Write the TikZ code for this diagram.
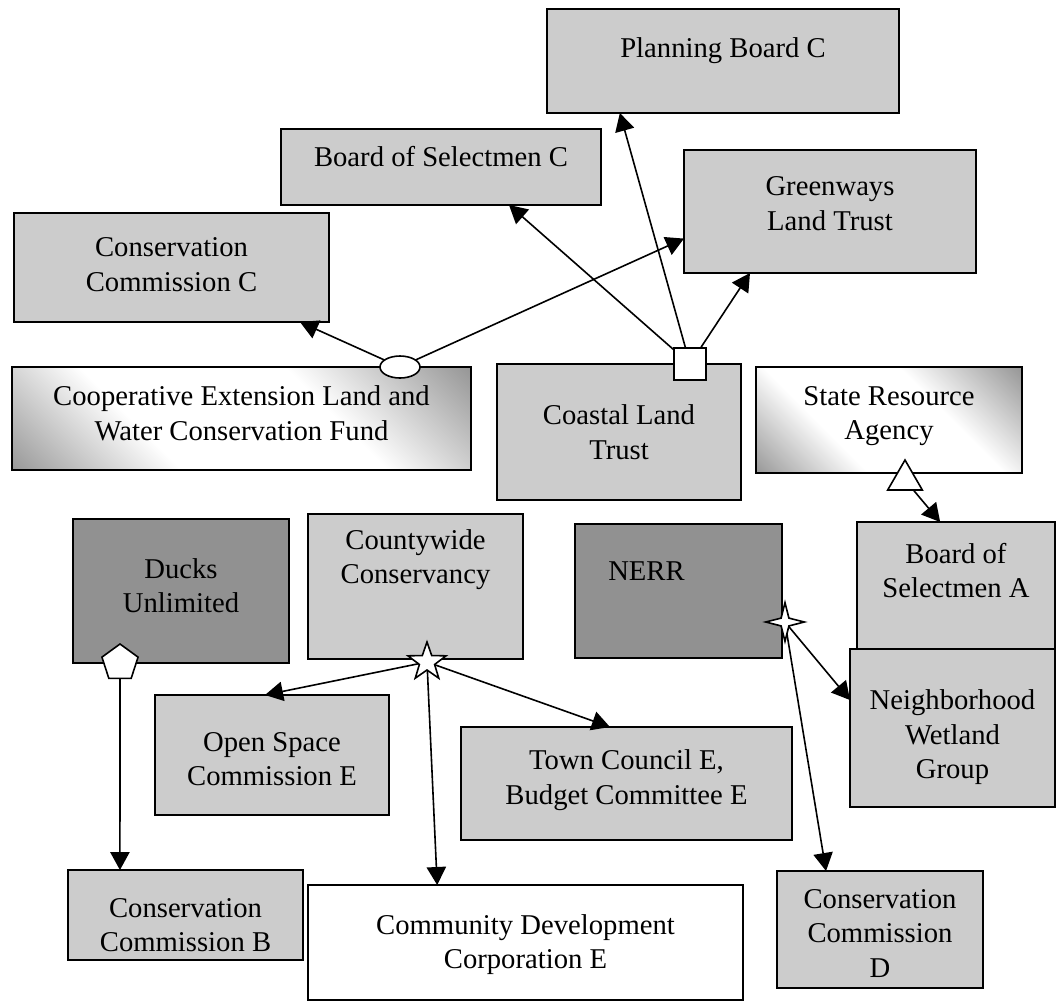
\documentclass[tikz,border=0pt]{standalone}
\usepackage{fontspec}
\setmainfont{Liberation Serif}
\usetikzlibrary{shapes.geometric,arrows.meta,fit,calc}
\definecolor{lightbox}{RGB}{204,204,204}
\definecolor{darkbox}{RGB}{145,145,145}
\definecolor{gradedge}{RGB}{120,120,120}
\pgfdeclarehorizontalshading{diagfade}{100bp}{color(0bp)=(gradedge); color(8bp)=(gradedge); color(36bp)=(white); color(62bp)=(white); color(92bp)=(gradedge); color(100bp)=(gradedge)}
\begin{document}
\begin{tikzpicture}[x=0.75pt,y=-0.75pt,
  base/.style={draw=black, line width=1.3pt, inner sep=0pt, outer sep=0pt},
  lbox/.style={base, fill=lightbox},
  dbox/.style={base, fill=darkbox},
  wbox/.style={base, fill=white},
  gbox/.style={base, shade, shading=diagfade, shading angle=45},
  txt/.style={align=center, font=\fontsize{21.5}{25.8}\selectfont, inner sep=0pt},
  cshape/.style={draw=black, line width=1.2pt, fill=white, inner sep=0pt, outer sep=0pt},
  arr/.style={line width=1.2pt, -{Triangle[length=13.5pt,width=14.5pt]}}
]
\useasboundingbox (0,0) rectangle (1057,1001);

% boxes with their texts
\node[lbox, fit={(547,9)(899,113)}, label={[txt,name=pbt,yshift=7.5pt]center:{Planning Board C}}] (pb) {};
\node[lbox, fit={(281,129)(601,205)}, label={[txt,name=bosct,yshift=8pt]center:{Board of Selectmen C}}] (bosc) {};
\node[lbox, fit={(684,150)(976,273)}, label={[txt,name=greent,yshift=6pt]center:{Greenways\\Land Trust}}] (green) {};
\node[lbox, fit={(14,213)(329,322)}, label={[txt,name=ccct,yshift=2pt]center:{Conservation\\Commission C}}] (ccc) {};
\node[gbox, fit={(12,367)(471,470)}, label={[txt,name=coopt,yshift=4pt]center:{Cooperative Extension Land and\\Water Conservation Fund}}] (coop) {};
\node[lbox, fit={(497,364)(741,500)}, label={[txt,name=coastalt]center:{Coastal Land\\Trust}}] (coastal) {};
\node[gbox, fit={(756,367)(1022,473)}, label={[txt,name=statet,yshift=3pt]center:{State Resource\\Agency}}] (state) {};
\node[lbox, fit={(857,522)(1055,651)}, label={[txt,name=bosat,yshift=12pt]center:{Board of\\Selectmen A}}] (bosa) {};
\node[dbox, fit={(73,519)(289,663)}, label={[txt,name=duckst,yshift=4pt]center:{Ducks\\Unlimited}}] (ducks) {};
\node[lbox, fit={(308,514)(523,659)}, label={[txt,name=countyt,yshift=20pt]center:{Countywide\\Conservancy}}] (county) {};
\node[dbox, fit={(575,524)(782,658)}, label={[txt,name=nerrt,yshift=15pt,xshift=-24pt]center:{NERR}}] (nerr) {};
\node[lbox, fit={(850,649)(1055,807)}, label={[txt,name=nwgt,yshift=-7pt]center:{Neighborhood\\Wetland\\Group}}] (nwg) {};
\node[lbox, fit={(155,695)(389,815)}, label={[txt,name=osct,yshift=-3pt]center:{Open Space\\Commission E}}] (osc) {};
\node[lbox, fit={(461,727)(792,840)}, label={[txt,name=tct,yshift=2.5pt]center:{Town Council E,\\Budget Committee E}}] (tc) {};
\node[lbox, fit={(68,870)(303,960)}, label={[txt,name=ccbt,yshift=-7.5pt]center:{Conservation\\Commission B}}] (ccb) {};
\node[wbox, fit={(308,885)(743,1000)}, label={[txt,name=cdct,yshift=-1.5pt]center:{Community Development\\Corporation E}}] (cdc) {};
\node[lbox, fit={(777,871)(983,988)}, label={[txt,name=ccdt,yshift=-3pt]center:{Conservation\\Commission\\D}}] (ccd) {};

% connector shapes
\node[cshape, ellipse, minimum width=30pt, minimum height=16.5pt] (ell) at (400,367) {};
\node[cshape, rectangle, minimum size=24pt] (sq) at (690,364) {};
\node[cshape, regular polygon, regular polygon sides=3, minimum size=30pt] (tri) at (905,480) {};
\node[cshape, regular polygon, regular polygon sides=5, minimum size=28.5pt] (pent) at (120,663) {};
\node[cshape, star, star points=5, star point ratio=2.5, minimum size=30pt] (st5) at (427,662) {};
\node[cshape, star, star points=4, star point ratio=3.5, minimum size=29pt] (st4) at (785,622) {};

% connectors
\draw[arr] (ell) -- ($(ccc.south west)!0.908!(ccc.south east)$);
\draw[arr] (ell) -- ($(green.north west)!0.72!(green.south west)$);
\draw[arr] (sq) -- ($(bosc.south west)!0.7125!(bosc.south east)$);
\draw[arr] (sq) -- ($(pb.south west)!0.207!(pb.south east)$);
\draw[arr] (sq) -- ($(green.south west)!0.226!(green.south east)$);
\draw[arr] (tri) -- ($(bosa.north west)!0.42!(bosa.north east)$);
\draw[arr] (pent) -- ($(ccb.north west)!0.221!(ccb.north east)$);
\draw[arr] (st5) -- ($(osc.north west)!0.47!(osc.north east)$);
\draw[arr] (st5) -- ($(tc.north west)!0.45!(tc.north east)$);
\draw[arr] (st5) -- ($(cdc.north west)!0.297!(cdc.north east)$);
\draw[arr] (st4) -- ($(nwg.north west)!0.323!(nwg.south west)$);
\draw[arr] (st4) -- ($(ccd.north west)!0.238!(ccd.north east)$);
\end{tikzpicture}
\end{document}
